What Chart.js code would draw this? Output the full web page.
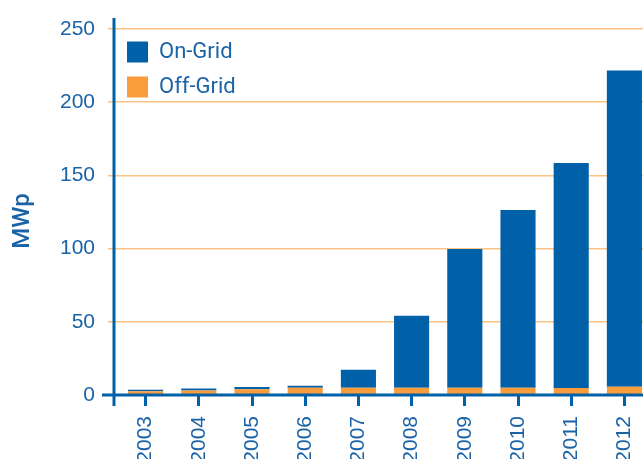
<!DOCTYPE html>
<html>
<head>
<meta charset="utf-8">
<script src="https://cdn.jsdelivr.net/npm/chart.js@4.4.0/dist/chart.umd.min.js"></script>
<style>
  html, body { margin: 0; padding: 0; background: #fff; overflow: hidden; }
  #wrap { width: 643px; height: 459px; overflow: hidden; }
</style>
</head>
<body>
<div id="wrap"><canvas id="myChart" width="651" height="459"></canvas></div>
<script>
var years = ['2003', '2004', '2005', '2006', '2007', '2008', '2009', '2010', '2011', '2012'];
var offGrid = [2.6, 3.0, 4.0, 5.0, 5.0, 5.0, 5.0, 5.0, 4.8, 5.6];
var onGrid = [1.0, 1.4, 1.5, 1.3, 12.2, 49.1, 94.7, 121.3, 153.6, 216.0];
var yTicks = [0, 50, 100, 150, 200, 250];

var blue = '#0060a8';
var textBlue = '#1a63a6';
var orange = '#f99c3b';
var gridOrange = '#fbc485';

// axis lines sit a little outside the plot area, so draw them here
var axisLines = {
    id: 'axisLines',
    afterLayout: function(chart) {
        // nudge the legend into the corner of the plot
        chart.legend.top += 28;
        chart.legend.left -= 5;
    },
    afterDatasetsDraw: function(chart) {
        var c = chart.ctx;
        var a = chart.chartArea;
        var y0 = chart.scales.y.getPixelForValue(0);
        c.save();
        c.strokeStyle = blue;
        c.lineWidth = 3;
        c.beginPath();
        c.moveTo(a.left - 5, a.top - 11);
        c.lineTo(a.left - 5, a.bottom + 11);
        c.moveTo(a.left - 17, y0);
        c.lineTo(chart.width, y0);
        c.stroke();
        c.restore();
    }
};

var ctx = document.getElementById('myChart').getContext('2d');
var myChart = new Chart(ctx, {
    type: 'bar',
    data: {
        labels: years,
        datasets: [{
            label: 'Off-Grid',
            data: offGrid,
            backgroundColor: orange,
            barPercentage: 0.66,
            categoryPercentage: 1
        },
        {
            label: 'On-Grid',
            data: onGrid,
            backgroundColor: blue,
            barPercentage: 0.66,
            categoryPercentage: 1
        }]
    },
    options: {
        responsive: false,
        animation: false,
        layout: { padding: { top: 29, right: 0, left: 0, bottom: 0 } },
        plugins: {
            tooltip: { enabled: false },
            legend: {
                position: 'chartArea',
                align: 'start',
                reverse: true,
                labels: {
                    boxWidth: 21,
                    boxHeight: 21,
                    padding: 13,
                    color: textBlue,
                    font: { family: 'Roboto', size: 22 }
                }
            }
        },
        scales: {
            x: {
                stacked: true,
                afterFit: function(s) {
                    s.height = 64;
                    s.paddingLeft = 0;
                    s.paddingRight = 0;
                },
                border: { display: false },
                grid: {
                    offset: false,
                    drawOnChartArea: false,
                    drawTicks: true,
                    tickLength: 11,
                    color: blue,
                    lineWidth: 3
                },
                ticks: {
                    minRotation: 90,
                    maxRotation: 90,
                    padding: 10,
                    color: textBlue,
                    font: { family: 'Liberation Sans', size: 21 }
                }
            },
            y: {
                stacked: true,
                min: 0,
                max: 250,
                afterFit: function(s) { s.width = 119; },
                afterBuildTicks: function(s) {
                    s.ticks = yTicks.map(function(v) { return { value: v }; });
                },
                border: { display: false },
                grid: {
                    color: function(c) { return c.tick && c.tick.value === 0 ? 'rgba(0,0,0,0)' : gridOrange; },
                    lineWidth: 1.5,
                    tickLength: 11
                },
                ticks: {
                    padding: 13,
                    color: textBlue,
                    font: { family: 'Liberation Sans', size: 21 }
                },
                title: {
                    display: true,
                    text: 'MWp   ',
                    color: textBlue,
                    padding: { top: 9, bottom: 0 },
                    font: { family: 'Roboto', size: 24, weight: '500' }
                }
            }
        }
    },
    plugins: [axisLines]
});
</script>
</body>
</html>
